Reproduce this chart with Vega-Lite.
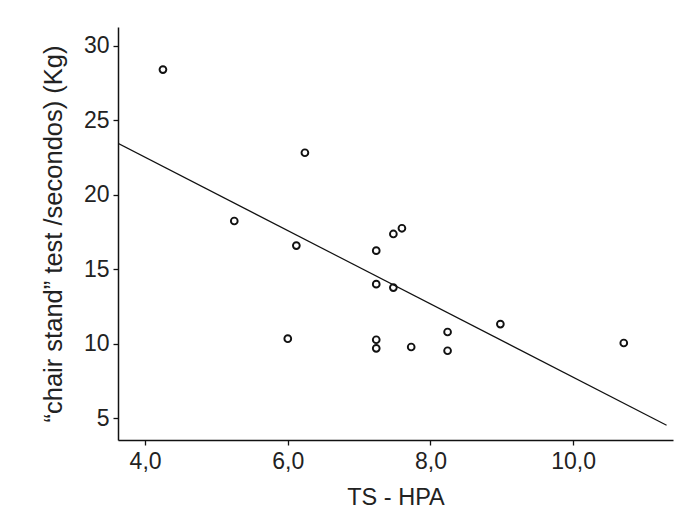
{
  "$schema": "https://vega.github.io/schema/vega-lite/v6.json",
  "autosize": "none",
  "width": 555,
  "height": 413,
  "padding": {"left": 118, "top": 27, "right": 27, "bottom": 86},
  "background": "white",
  "config": {
    "view": {"stroke": null},
    "font": "Liberation Sans",
    "axis": {
      "grid": false,
      "domainColor": "#111",
      "domainWidth": 1.5,
      "tickColor": "#111",
      "tickWidth": 1.3,
      "tickSize": 5,
      "labelFont": "Liberation Sans",
      "labelFontSize": 23,
      "labelColor": "#222",
      "titleFont": "Liberation Sans",
      "titleFontSize": 23.5,
      "titleFontWeight": "normal",
      "titleColor": "#222"
    }
  },
  "datasets": {
    "points": [
      {"ts": 4.25, "chair": 28.39},
      {"ts": 5.25, "chair": 18.23},
      {"ts": 6.0, "chair": 10.33},
      {"ts": 6.12, "chair": 16.58},
      {"ts": 6.24, "chair": 22.81},
      {"ts": 7.24, "chair": 16.24},
      {"ts": 7.24, "chair": 13.99},
      {"ts": 7.24, "chair": 10.26},
      {"ts": 7.24, "chair": 9.68},
      {"ts": 7.48, "chair": 17.36},
      {"ts": 7.48, "chair": 13.76},
      {"ts": 7.6, "chair": 17.74},
      {"ts": 7.73, "chair": 9.77},
      {"ts": 8.24, "chair": 10.78},
      {"ts": 8.24, "chair": 9.52},
      {"ts": 8.98, "chair": 11.31},
      {"ts": 10.71, "chair": 10.04}
    ],
    "fit": [
      {"ts": 3.62, "chair": 23.44},
      {"ts": 11.31, "chair": 4.52}
    ]
  },
  "layer": [
    {
      "data": {"name": "fit"},
      "mark": {"type": "line", "color": "#111", "strokeWidth": 1.2, "clip": true},
      "encoding": {
        "x": {"field": "ts", "type": "quantitative"},
        "y": {"field": "chair", "type": "quantitative"}
      }
    },
    {
      "data": {"name": "points"},
      "mark": {"type": "point", "shape": "circle", "filled": false, "color": "#111", "strokeWidth": 1.9, "size": 46, "opacity": 1},
      "encoding": {
        "x": {
          "field": "ts",
          "type": "quantitative",
          "title": "TS - HPA",
          "scale": {"domain": [3.62, 11.4], "nice": false, "zero": false},
          "axis": {
            "values": [4, 6, 8, 10],
            "labelExpr": "replace(format(datum.value, '.1f'), '.', ',')",
            "labelPadding": 5,
            "titlePadding": 12
          }
        },
        "y": {
          "field": "chair",
          "type": "quantitative",
          "title": "“chair stand” test /secondos) (Kg)",
          "scale": {"domain": [3.53, 31.25], "nice": false, "zero": false},
          "axis": {
            "values": [5, 10, 15, 20, 25, 30],
            "labelPadding": 4,
            "titleFontSize": 25.5,
            "titlePadding": 17
          }
        }
      }
    }
  ]
}
